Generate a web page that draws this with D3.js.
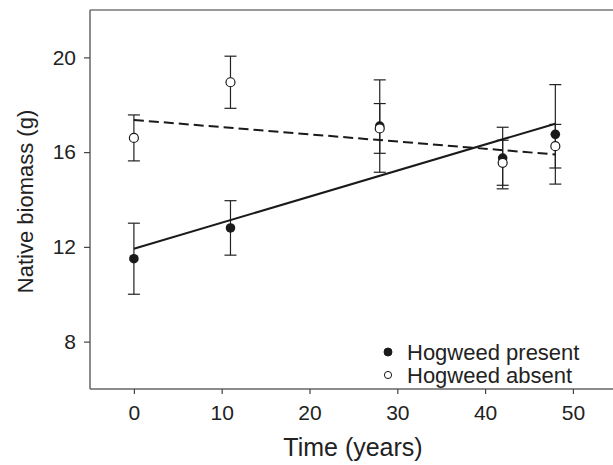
<!DOCTYPE html>
<html>
<head>
<meta charset="utf-8">
<script src="https://cdn.jsdelivr.net/npm/d3@7"></script>
<style>
  body { margin: 0; background: #fff; }
  text { font-family: "Liberation Sans", Arial, sans-serif; fill: #222; }
</style>
</head>
<body>
<svg id="chart" width="613" height="465"></svg>
<script>
// values
const times = [0, 11, 28, 42, 48];
const presentMean = [11.5, 12.8, 17.1, 15.75, 16.75];
const presentErr = [1.5, 1.15, 1.95, 1.3, 2.1];
const absentMean = [16.6, 18.95, 17.0, 15.55, 16.25];
const absentErr = [0.97, 1.1, 1.05, 0.95, 0.92];
// fitted lines (end points)
const fitPresent = [[0, 11.92], [48, 17.2]];
const fitAbsent = [[0, 17.36], [48, 15.9]];
const xTicks = [0, 10, 20, 30, 40, 50];
const yTicks = [8, 12, 16, 20];
const legendLabels = ["Hogweed present", "Hogweed absent"];

const svg = d3.select("#chart");
const plotLeft = 90, plotTop = 10, plotBottom = 389;

const x = d3.scaleLinear().domain([-5, 55]).range([plotLeft, 616.8]);
const y = d3.scaleLinear().domain([6, 22]).range([plotBottom, plotTop]);

//frame top line (plot box runs off to the right)
svg.append("line")
  .attr("x1", plotLeft).attr("x2", 613)
  .attr("y1", plotTop).attr("y2", plotTop)
  .attr("stroke", "#777").attr("stroke-width", 1.5);

// axes
const xAxis = svg.append("g")
  .attr("transform", `translate(0,${plotBottom})`)
  .call(d3.axisBottom(x).tickValues(xTicks).tickSize(5).tickPadding(11).tickSizeOuter(0));
const yAxis = svg.append("g")
  .attr("transform", `translate(${plotLeft},0)`)
  .call(d3.axisLeft(y).tickValues(yTicks).tickSize(6).tickPadding(8).tickSizeOuter(0));

[xAxis, yAxis].forEach(g => {
  g.select(".domain").attr("stroke", "#666").attr("stroke-width", 1.5);
  g.selectAll(".tick line").attr("stroke", "#444").attr("stroke-width", 1.2);
  g.selectAll(".tick text").attr("font-size", 21).attr("fill", "#222")
    .style("font-family", "'Liberation Sans', Arial, sans-serif");
});
// extend the domain lines to the plot edges
xAxis.select(".domain").attr("d", `M${plotLeft},0H613`);
yAxis.select(".domain").attr("d", `M0,${plotTop}V${plotBottom}`);

// axis titles
svg.append("text")
  .attr("x", 353).attr("y", 456)
  .attr("text-anchor", "middle")
  .attr("font-size", 25)
  .text("Time (years)");
svg.append("text")
  .attr("transform", `translate(33,${(plotTop + plotBottom) / 2 + 2}) rotate(-90)`)
  .attr("text-anchor", "middle")
  .attr("font-size", 22)
  .text("Native biomass (g)");

const present = times.map((t, i) => ({t, m: presentMean[i], e: presentErr[i]}));
const absent = times.map((t, i) => ({t, m: absentMean[i], e: absentErr[i]}));

//error bars
function errorBars(data) {
  const g = svg.append("g").attr("stroke", "#222").attr("stroke-width", 1.2);
  g.selectAll("line.v").data(data).join("line").attr("class", "v")
    .attr("x1", d => x(d.t)).attr("x2", d => x(d.t))
    .attr("y1", d => y(d.m + d.e)).attr("y2", d => y(d.m - d.e));
  g.selectAll("line.hi").data(data).join("line").attr("class", "hi")
    .attr("x1", d => x(d.t) - 6).attr("x2", d => x(d.t) + 6)
    .attr("y1", d => y(d.m + d.e)).attr("y2", d => y(d.m + d.e));
  g.selectAll("line.lo").data(data).join("line").attr("class", "lo")
    .attr("x1", d => x(d.t) - 6).attr("x2", d => x(d.t) + 6)
    .attr("y1", d => y(d.m - d.e)).attr("y2", d => y(d.m - d.e));
}
errorBars(present);
errorBars(absent);

// regression lines
const line = d3.line().x(d => x(d[0])).y(d => y(d[1]));
svg.append("path").datum(fitPresent)
  .attr("d", line).attr("fill", "none")
  .attr("stroke", "#1a1a1a").attr("stroke-width", 2);
svg.append("path").datum(fitAbsent)
  .attr("d", line).attr("fill", "none")
  .attr("stroke", "#1a1a1a").attr("stroke-width", 2)
  .attr("stroke-dasharray", "10,5");

// points
svg.append("g").selectAll("circle").data(present).join("circle")
  .attr("cx", d => x(d.t)).attr("cy", d => y(d.m)).attr("r", 4.8)
  .attr("fill", "#1a1a1a");
svg.append("g").selectAll("circle").data(absent).join("circle")
  .attr("cx", d => x(d.t)).attr("cy", d => y(d.m)).attr("r", 4.5)
  .attr("fill", "#fff").attr("stroke", "#1a1a1a").attr("stroke-width", 1.2);

// legend
const legend = svg.append("g").attr("transform", "translate(388,352)");
legendLabels.forEach((lab, i) => {
  const row = legend.append("g").attr("transform", `translate(0,${i * 23})`);
  row.append("circle").attr("r", i == 0 ? 4 : 3.6)
    .attr("fill", i == 0 ? "#1a1a1a" : "#fff")
    .attr("stroke", "#1a1a1a").attr("stroke-width", 1);
  row.append("text").attr("x", 19).attr("dy", "0.36em")
    .attr("font-size", 22).text(lab);
});
</script>
</body>
</html>
